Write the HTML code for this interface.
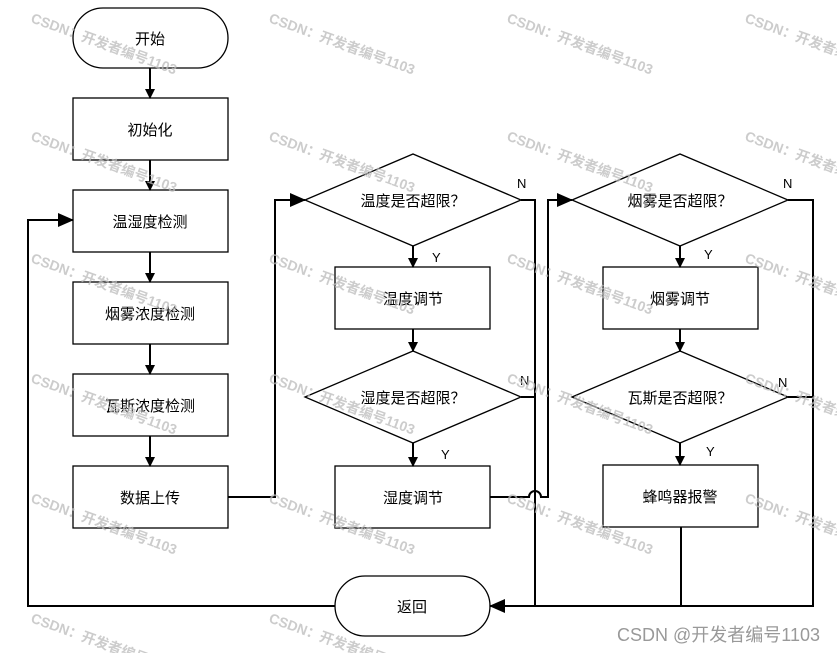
<!DOCTYPE html>
<html><head><meta charset="utf-8"><style>
html,body{margin:0;padding:0;background:#fff;}
svg{display:block}
text{font-family:"Liberation Sans","Noto Sans CJK SC",sans-serif;}
</style></head><body>
<svg width="837" height="653" viewBox="0 0 837 653" xmlns="http://www.w3.org/2000/svg">
<defs>
<marker id="a" markerWidth="10" markerHeight="10" refX="9" refY="5" orient="auto" markerUnits="userSpaceOnUse">
<path d="M0,0 L10,5 L0,10 z" fill="#000"/></marker>
<marker id="b" markerWidth="16" markerHeight="14" refX="15" refY="7" orient="auto" markerUnits="userSpaceOnUse">
<path d="M0,0 L16,7 L0,14 z" fill="#000"/></marker>
</defs>
<g fill="#fff" stroke="#000" stroke-width="1.3">
<rect x="73" y="8" width="155" height="60" rx="30"/>
<rect x="73" y="98" width="155" height="62"/>
<rect x="73" y="190" width="155" height="62"/>
<rect x="73" y="282" width="155" height="62"/>
<rect x="73" y="374" width="155" height="62"/>
<rect x="73" y="466" width="155" height="62"/>
<rect x="335" y="576" width="155" height="60" rx="30"/>
<polygon points="305,200 413,154 521,200 413,246"/>
<rect x="335" y="267" width="155" height="62"/>
<polygon points="305,397 413,351 521,397 413,443"/>
<rect x="335" y="466" width="155" height="62"/>
<polygon points="572,200 680,154 788,200 680,246"/>
<rect x="603" y="267" width="155" height="62"/>
<polygon points="572,397 680,351 788,397 680,443"/>
<rect x="603" y="465" width="155" height="62"/>
</g>
<g fill="none" stroke="#000" stroke-width="2">
<line x1="150" y1="68" x2="150" y2="98" marker-end="url(#a)"/>
<line x1="150" y1="160" x2="150" y2="190" marker-end="url(#a)"/>
<line x1="150" y1="252" x2="150" y2="282" marker-end="url(#a)"/>
<line x1="150" y1="344" x2="150" y2="374" marker-end="url(#a)"/>
<line x1="150" y1="436" x2="150" y2="466" marker-end="url(#a)"/>
<polyline points="228,497 275,497 275,200 305,200" marker-end="url(#b)"/>
<polyline points="335,606 28,606 28,220 73,220" marker-end="url(#b)"/>
<line x1="413" y1="246" x2="413" y2="267" marker-end="url(#a)"/>
<line x1="413" y1="329" x2="413" y2="351" marker-end="url(#a)"/>
<line x1="413" y1="443" x2="413" y2="466" marker-end="url(#a)"/>
<polyline points="521,200 535,200 535,606"/>
<line x1="521" y1="397" x2="535" y2="397"/>
<path d="M490,497 L529,497 A6,6 0 0 1 541,497 L548,497 L548,200 L572,200" marker-end="url(#b)"/>
<line x1="680" y1="246" x2="680" y2="267" marker-end="url(#a)"/>
<line x1="680" y1="329" x2="680" y2="351" marker-end="url(#a)"/>
<line x1="680" y1="443" x2="680" y2="465" marker-end="url(#a)"/>
<polyline points="788,200 813,200 813,606 490,606" marker-end="url(#b)"/>
<line x1="788" y1="397" x2="813" y2="397"/>
<line x1="681" y1="527" x2="681" y2="606"/>
</g>
<g font-size="15" text-anchor="middle" fill="#000">
<text x="150" y="44">开始</text>
<text x="150" y="135">初始化</text>
<text x="150" y="227">温湿度检测</text>
<text x="150" y="319">烟雾浓度检测</text>
<text x="150" y="411">瓦斯浓度检测</text>
<text x="150" y="503">数据上传</text>
<text x="412" y="612">返回</text>
<text x="413" y="206">温度是否超限？</text>
<text x="413" y="304">温度调节</text>
<text x="413" y="403">湿度是否超限？</text>
<text x="413" y="503">湿度调节</text>
<text x="680" y="206">烟雾是否超限？</text>
<text x="680" y="304">烟雾调节</text>
<text x="680" y="403">瓦斯是否超限？</text>
<text x="680" y="502">蜂鸣器报警</text>
</g>
<g font-size="13" fill="#000">
<text x="517" y="188">N</text><text x="432" y="262">Y</text>
<text x="520" y="385">N</text><text x="441" y="459">Y</text>
<text x="783" y="188">N</text><text x="704" y="259">Y</text>
<text x="778" y="387">N</text><text x="706" y="456">Y</text>
</g>
<g fill="#bbb" font-size="14" font-weight="bold" opacity="0.75">
<text transform="translate(30,22) rotate(20)">CSDN：开发者编号1103</text>
<text transform="translate(268,22) rotate(20)">CSDN：开发者编号1103</text>
<text transform="translate(506,22) rotate(20)">CSDN：开发者编号1103</text>
<text transform="translate(744,22) rotate(20)">CSDN：开发者编号1103</text>
<text transform="translate(30,140) rotate(20)">CSDN：开发者编号1103</text>
<text transform="translate(268,140) rotate(20)">CSDN：开发者编号1103</text>
<text transform="translate(506,140) rotate(20)">CSDN：开发者编号1103</text>
<text transform="translate(744,140) rotate(20)">CSDN：开发者编号1103</text>
<text transform="translate(30,262) rotate(20)">CSDN：开发者编号1103</text>
<text transform="translate(268,262) rotate(20)">CSDN：开发者编号1103</text>
<text transform="translate(506,262) rotate(20)">CSDN：开发者编号1103</text>
<text transform="translate(744,262) rotate(20)">CSDN：开发者编号1103</text>
<text transform="translate(30,382) rotate(20)">CSDN：开发者编号1103</text>
<text transform="translate(268,382) rotate(20)">CSDN：开发者编号1103</text>
<text transform="translate(506,382) rotate(20)">CSDN：开发者编号1103</text>
<text transform="translate(744,382) rotate(20)">CSDN：开发者编号1103</text>
<text transform="translate(30,502) rotate(20)">CSDN：开发者编号1103</text>
<text transform="translate(268,502) rotate(20)">CSDN：开发者编号1103</text>
<text transform="translate(506,502) rotate(20)">CSDN：开发者编号1103</text>
<text transform="translate(744,502) rotate(20)">CSDN：开发者编号1103</text>
<text transform="translate(30,622) rotate(20)">CSDN：开发者编号1103</text>
<text transform="translate(268,622) rotate(20)">CSDN：开发者编号1103</text>
</g>
<text x="820" y="641" text-anchor="end" font-size="18" fill="#999">CSDN @开发者编号1103</text>
</svg>
</body></html>
